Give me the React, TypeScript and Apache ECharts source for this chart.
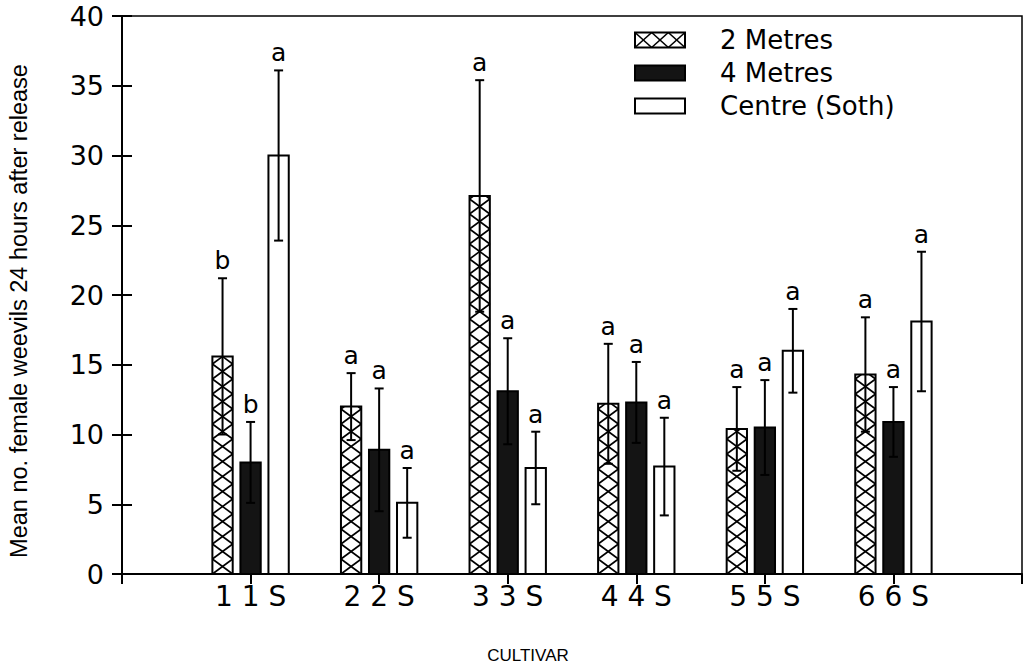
import React, { useEffect, useRef } from "react";
import * as echarts from "echarts";

// ---- data ----
const cultivars = ["1 1 S", "2 2 S", "3 3 S", "4 4 S", "5 5 S", "6 6 S"];
const seriesNames = ["2 Metres", "4 Metres", "Centre (Soth)"];
const mean2m = [15.6, 12.0, 27.1, 12.2, 10.4, 14.3];
const se2m = [5.6, 2.4, 8.3, 4.3, 3.0, 4.1];
const mean4m = [8.0, 8.9, 13.1, 12.3, 10.5, 10.9];
const se4m = [2.9, 4.4, 3.8, 2.9, 3.4, 2.5];
const meanCentre = [30.0, 5.1, 7.6, 7.7, 16.0, 18.1];
const seCentre = [6.1, 2.5, 2.6, 3.5, 3.0, 5.0];
const letters2m = ["b", "a", "a", "a", "a", "a"];
const letters4m = ["b", "a", "a", "a", "a", "a"];
const lettersCentre = ["a", "a", "a", "a", "a", "a"];
const yAxisTitle = "Mean no. female weevils 24 hours after release";
const xAxisTitle = "CULTIVAR";

const means = [mean2m, mean4m, meanCentre];
const ses = [se2m, se4m, seCentre];
const letters = [letters2m, letters4m, lettersCentre];
const fills = ["#ffffff", "#141414", "#ffffff"];

const TICK_FONT = '"DejaVu Sans", sans-serif';
const TITLE_FONT = '"Liberation Sans", Arial, sans-serif';

function crossLines(x0: number, w: number, yBottom: number, yTop: number, p: number) {
  const out: any[] = [];
  const x1 = x0 + w;
  for (let yb = yBottom; yb > yTop + 0.5; yb -= p) {
    const ya = yb - p;
    let t = 1;
    if (ya < yTop) t = (yb - yTop) / p;
    const yEnd = yb - t * p;
    out.push({
      type: "line",
      shape: { x1: x0, y1: yb, x2: x0 + t * w, y2: yEnd },
      style: { stroke: "#000", lineWidth: 1.6 },
    });
    out.push({
      type: "line",
      shape: { x1: x1, y1: yb, x2: x1 - t * w, y2: yEnd },
      style: { stroke: "#000", lineWidth: 1.6 },
    });
  }
  return out;
}

function makeRenderItem(si: number) {
  return (params: any, api: any) => {
    const cat = api.value(0);
    const mean = api.value(1);
    const se = api.value(2);
    const unit = api.size([1, 0])[0];
    const barW = unit * 0.158;
    const cx = api.coord([cat, 0])[0] + (si - 1) * unit * 0.218;
    const base = api.coord([cat, 0])[1];
    const top = api.coord([cat, mean])[1];
    const eTop = api.coord([cat, mean + se])[1];
    const eBot = api.coord([cat, Math.max(0, mean - se)])[1];
    const x0 = cx - barW / 2;
    const children: any[] = [
      {
        type: "rect",
        shape: { x: x0, y: top, width: barW, height: base - top },
        style: { fill: fills[si], stroke: "#000", lineWidth: 2 },
      },
    ];
    if (si === 0) children.push(...crossLines(x0, barW, base, top, 15));
    const cap = 4.5;
    children.push(
      { type: "line", shape: { x1: cx, y1: eBot, x2: cx, y2: eTop }, style: { stroke: "#000", lineWidth: 2 } },
      { type: "line", shape: { x1: cx - cap, y1: eTop, x2: cx + cap, y2: eTop }, style: { stroke: "#000", lineWidth: 2 } },
      { type: "line", shape: { x1: cx - cap, y1: eBot, x2: cx + cap, y2: eBot }, style: { stroke: "#000", lineWidth: 2 } },
      {
        type: "text",
        x: cx,
        y: eTop - 5,
        style: {
          text: letters[si][params.dataIndex],
          textAlign: "center",
          textVerticalAlign: "bottom",
          font: `25px ${TICK_FONT}`,
          fill: "#000",
        },
      }
    );
    return { type: "group", children };
  };
}

function legendGraphic() {
  const items: any[] = [];
  const ys = [40, 73, 106];
  seriesNames.forEach((name, i) => {
    const y = ys[i];
    const ix = 635, iw = 50, ih = 15;
    items.push({
      type: "rect",
      shape: { x: ix, y: y - ih / 2, width: iw, height: ih },
      style: { fill: fills[i], stroke: "#000", lineWidth: 2 },
    });
    if (i === 0) {
      const cw = iw / 3;
      for (let k = 0; k < 3; k++) {
        const xa = ix + k * cw;
        items.push(
          { type: "line", shape: { x1: xa, y1: y - ih / 2, x2: xa + cw, y2: y + ih / 2 }, style: { stroke: "#000", lineWidth: 1.6 } },
          { type: "line", shape: { x1: xa + cw, y1: y - ih / 2, x2: xa, y2: y + ih / 2 }, style: { stroke: "#000", lineWidth: 1.6 } }
        );
      }
    }
    items.push({
      type: "text",
      x: 720,
      y: y,
      style: { text: name, font: `26px ${TICK_FONT}`, textVerticalAlign: "middle", fill: "#000" },
    });
  });
  items.push({
    type: "text",
    x: 528,
    y: 655,
    style: {
      text: xAxisTitle,
      font: `17px ${TITLE_FONT}`,
      textAlign: "center",
      textVerticalAlign: "middle",
      fill: "#000",
    },
  });
  items.push({
    type: "text",
    x: 19,
    y: 311,
    rotation: Math.PI / 2,
    style: {
      text: yAxisTitle,
      font: `23.5px ${TITLE_FONT}`,
      textAlign: "center",
      textVerticalAlign: "middle",
      fill: "#000",
    },
  });
  return items;
}

export default function App() {
  const ref = useRef<HTMLDivElement>(null);
  useEffect(() => {
    if (!ref.current) return;
    const chart = echarts.init(ref.current, null, { renderer: "svg" });
    const series = seriesNames.map((name, si) => ({
      name,
      type: "custom",
      renderItem: makeRenderItem(si),
      encode: { x: 0, y: 1 },
      data: cultivars.map((_, i) => [i + 1, means[si][i], ses[si][i]]),
      z: 5,
    }));
    chart.setOption({
      animation: false,
      backgroundColor: "#fff",
      grid: {
        left: 122,
        right: 9,
        top: 16,
        bottom: 95,
        show: true,
        borderColor: "#000",
        borderWidth: 1.5,
        backgroundColor: "transparent",
      },
      xAxis: {
        type: "value",
        min: 0,
        max: 7,
        interval: 1,
        axisLine: { show: true, lineStyle: { color: "#000", width: 2 } },
        axisTick: { show: true, inside: false, length: 10, lineStyle: { color: "#000", width: 2 } },
        splitLine: { show: false },
        axisLabel: {
          margin: 8,
          color: "#000",
          fontFamily: TICK_FONT,
          fontSize: 28,
          formatter: (v: number) => (v >= 1 && v <= cultivars.length ? cultivars[v - 1] : ""),
        },
      },
      yAxis: [
        {
          type: "value",
          min: 0,
          max: 40,
          interval: 5,
          position: "left",
          axisLine: { show: true, lineStyle: { color: "#000", width: 2 } },
          axisTick: { show: true, inside: false, length: 10, lineStyle: { color: "#000", width: 2 } },
          splitLine: { show: false },
          axisLabel: { margin: 18, color: "#000", fontFamily: TICK_FONT, fontSize: 27 },
        },
        {
          type: "value",
          min: 0,
          max: 40,
          interval: 5,
          position: "left",
          axisLine: { show: false },
          axisTick: { show: true, inside: true, length: 10, lineStyle: { color: "#000", width: 2 } },
          splitLine: { show: false },
          axisLabel: { show: false },
        },
      ],
      graphic: legendGraphic(),
      series,
    });
    return () => chart.dispose();
  }, []);
  return (
    <div
      ref={ref}
      style={{ position: "fixed", left: 0, top: 0, width: 1031, height: 669, background: "#fff" }}
    />
  );
}
